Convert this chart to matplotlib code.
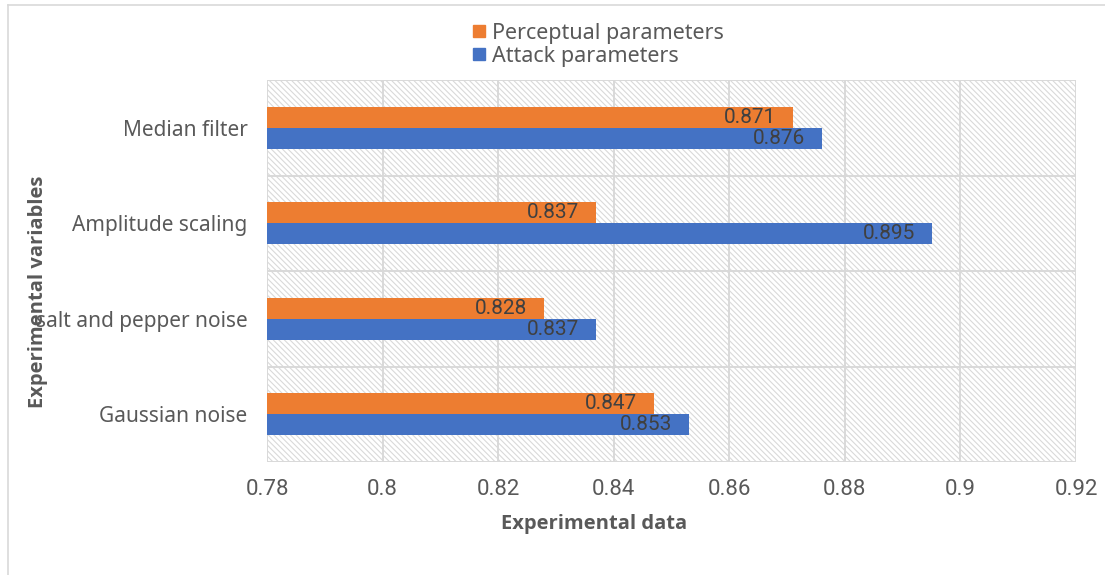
import matplotlib
matplotlib.use("Agg")
import matplotlib.pyplot as plt
from matplotlib.patches import Rectangle
from matplotlib.lines import Line2D
from matplotlib import font_manager
import numpy as np

categories = ["Gaussian noise", "salt and pepper noise", "Amplitude scaling", "Median filter"]
perceptual = [0.847, 0.828, 0.837, 0.871]
attack = [0.853, 0.837, 0.895, 0.876]
xticks = [0.78, 0.8, 0.82, 0.84, 0.86, 0.88, 0.9, 0.92]
xticklabels = ["0.78", "0.8", "0.82", "0.84", "0.86", "0.88", "0.9", "0.92"]

names = {f.name for f in font_manager.fontManager.ttflist}
narrow = 'Liberation Sans Narrow' if 'Liberation Sans Narrow' in names else 'Roboto'

plt.rcParams['font.family'] = ['Noto Sans', 'DejaVu Sans']
plt.rcParams['hatch.color'] = '#d9d9d9'
plt.rcParams['hatch.linewidth'] = 0.8

fig = plt.figure(figsize=(11.05, 5.75), dpi=100)
ax = fig.add_axes([267/1105, 1-462/575, (1076-267)/1105, (462-80)/575])

# hatched background
ax.add_patch(Rectangle((0, 0), 1, 1, transform=ax.transAxes, facecolor='white',
                       edgecolor='#d9d9d9', hatch='\\\\\\\\\\\\', lw=0, zorder=0))

y = np.arange(len(categories))
h = 0.22
orange = '#ED7D31'
blue = '#4472C4'
ax.barh(y + h/2, np.array(perceptual) - 0.78, left=0.78, height=h, color=orange, zorder=3)
ax.barh(y - h/2, np.array(attack) - 0.78, left=0.78, height=h, color=blue, zorder=3)

for yi, v in zip(y, perceptual):
    ax.text(v - 0.0029, yi + h/2, f"{v:.3f}", ha='right', va='center', fontsize=15,
            family=narrow, color='#404040', zorder=4)
for yi, v in zip(y, attack):
    ax.text(v - 0.0029, yi - h/2, f"{v:.3f}", ha='right', va='center', fontsize=15,
            family=narrow, color='#404040', zorder=4)

ax.set_xlim(0.78, 0.92)
ax.set_ylim(-0.5, 3.5)
ax.set_xticks(xticks)
ax.set_xticklabels(xticklabels, family=narrow, fontsize=16)
ax.set_yticks(y)
ax.set_yticklabels(categories, fontsize=15)
ax.tick_params(axis='both', length=0, colors='#595959')
ax.tick_params(axis='y', pad=14)
ax.tick_params(axis='x', pad=12)

for xv in xticks:
    ax.axvline(xv, color='#d9d9d9', lw=1.4, zorder=1)
for yv in [-0.5, 0.5, 1.5, 2.5, 3.5]:
    ax.axhline(yv, color='#d9d9d9', lw=1.4, zorder=1)
for s in ax.spines.values():
    s.set_visible(False)

fig.text(594/1105, 1-524/575, "Experimental data", ha='center', va='center',
         fontsize=14.5, fontweight='bold', family=['Open Sans', 'DejaVu Sans'], color='#595959')
fig.text(38/1105, 1-292/575, "Experimental variables", rotation=90, ha='center', va='center',
         fontsize=14.5, fontweight='bold', family=['Open Sans', 'DejaVu Sans'], color='#595959')

handles = [Line2D([], [], marker='s', ls='', color=orange, markersize=9),
           Line2D([], [], marker='s', ls='', color=blue, markersize=9)]
fig.legend(handles, ['Perceptual parameters', 'Attack parameters'], loc='upper left',
           bbox_to_anchor=(470/1105, 1-23/575), frameon=False, fontsize=15.5,
           labelcolor='#595959', handletextpad=0.2, labelspacing=0.08, borderpad=0,
           borderaxespad=0, handlelength=0.8)

# chart border
fig.add_artist(Line2D([8/1105, 8/1105], [0, 1-5/575], color='#d9d9d9', lw=1.2))
fig.add_artist(Line2D([8/1105, 1], [1-5/575, 1-5/575], color='#d9d9d9', lw=1.2))

fig.savefig("out.png", dpi=100)
